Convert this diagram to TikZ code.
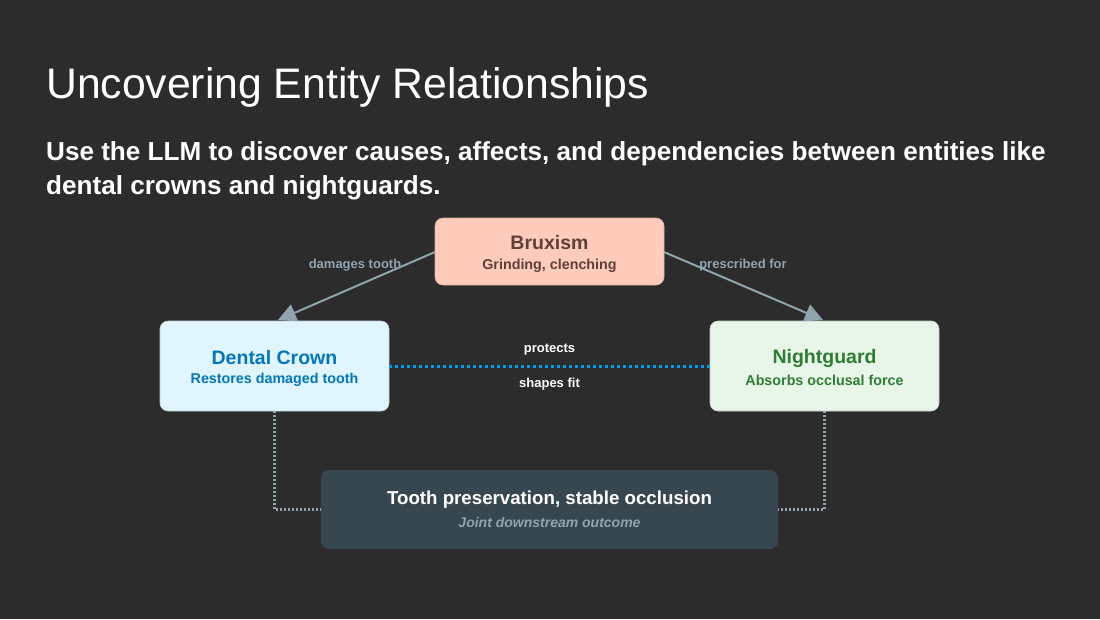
\documentclass[tikz,border=0pt]{standalone}
\usepackage{fontspec}
\setmainfont{Liberation Sans}
\usetikzlibrary{arrows.meta}
\definecolor{bg}{HTML}{2C2C2C}
\definecolor{grayline}{HTML}{90A4AE}
\definecolor{bruxfill}{HTML}{FFCCBC}
\definecolor{bruxtext}{HTML}{5D4037}
\definecolor{crownfill}{HTML}{E1F5FE}
\definecolor{crowntext}{HTML}{0277BD}
\definecolor{ngfill}{HTML}{E8F5E9}
\definecolor{ngtext}{HTML}{2E7D32}
\definecolor{outfill}{HTML}{37474F}
\definecolor{dotblue}{HTML}{039BE5}
\tikzset{
  card/.style={rounded corners=8pt, inner sep=0pt, align=center},
  headtxt/.style={font=\fontsize{19.5}{22}\selectfont\bfseries},
  subtxt/.style={font=\fontsize{14.3}{17}\selectfont\bfseries},
  arr/.style={draw=grayline, line width=2pt, -{Triangle[length=18pt,width=18pt]}},
  elabel/.style={font=\fontsize{13}{15}\selectfont\bfseries, text=grayline},
  wlabel/.style={font=\fontsize{13}{15}\selectfont\bfseries, text=white},
  dotgray/.style={draw=grayline, line width=2.5pt, dash pattern=on 2pt off 2pt},
}
\begin{document}
\begin{tikzpicture}[x=1pt,y=-1pt]
\fill[bg] (0,0) rectangle (1100,619);
\useasboundingbox (0,0) rectangle (1100,619);
\node[anchor=base west, inner sep=0pt, text=white, font=\fontsize{42.7}{48}\selectfont] (title) at (46,98) {Uncovering Entity Relationships};
\node[anchor=base west, inner sep=0pt, text=white, font=\fontsize{26.1}{34}\selectfont\bfseries, align=left] (sub) at (46,160) {Use the LLM to discover causes, affects, and dependencies between entities like};
\node[anchor=base west, inner sep=0pt, text=white, font=\fontsize{26.1}{34}\selectfont\bfseries, align=left] (sub2) at (46,194) {dental crowns and nightguards.};
% boxes
\path[card, fill=bruxfill, draw=bruxfill!85!black, line width=0.6pt] (435,218) rectangle (664,285);
\node[card, minimum width=229pt, minimum height=67pt] (brux) at (549.5,251.5) {};
\node[headtxt, text=bruxtext] (bruxh) at (549.5,243) {Bruxism};
\node[subtxt, text=bruxtext] (bruxs) at (549.5,266) {Grinding, clenching};
\path[card, fill=crownfill, draw=crownfill!85!black, line width=0.6pt] (160,321) rectangle (389,411);
\node[minimum width=229pt, minimum height=90pt, inner sep=0pt] (crown) at (274.5,366) {};
\node[headtxt, text=crowntext] (crownh) at (274.5,358) {Dental Crown};
\node[subtxt, text=crowntext] (crowns) at (274.5,380) {Restores damaged tooth};
\path[card, fill=ngfill, draw=ngfill!85!black, line width=0.6pt] (710,321) rectangle (939,411);
\node[minimum width=229pt, minimum height=90pt, inner sep=0pt] (ng) at (824.5,366) {};
\node[headtxt, text=ngtext] (ngh) at (824.5,358) {Nightguard};
\node[subtxt, text=ngtext] (ngs) at (824.5,380) {Absorbs occlusal force};
\path[card, fill=outfill] (321,470) rectangle (778,549);
\node[minimum width=457pt, minimum height=79pt, inner sep=0pt] (out) at (549.5,509.5) {};
\node[headtxt, font=\fontsize{18.7}{22}\selectfont\bfseries, text=white] (outh) at (549.5,500) {Tooth preservation, stable occlusion};
\node[font=\fontsize{14}{16}\selectfont\bfseries\itshape, text=grayline] (outs) at (549.5,522) {Joint downstream outcome};
% connectors
\coordinate (bl) at (435,252);
\coordinate (br) at (664,252);
\coordinate (cl) at (278,320);
\coordinate (cr) at (823,320);
\draw[arr] (bl) -- (cl);
\draw[arr] (br) -- (cr);
\node[elabel] (l1) at (355,265) {damages tooth};
\node[elabel] (l2) at (743,265) {prescribed for};
\draw[draw=dotblue, line width=3pt, dash pattern=on 3pt off 3pt] (crown.east) -- (ng.west);
\node[wlabel] (l3) at (549.5,350) {protects};
\node[wlabel] (l4) at (549.5,384) {shapes fit};
\draw[dotgray] (crown.south) -- (crown.south |- out.west) -- (out.west);
\draw[dotgray] (ng.south) -- (ng.south |- out.east) -- (out.east);
\end{tikzpicture}
\end{document}
